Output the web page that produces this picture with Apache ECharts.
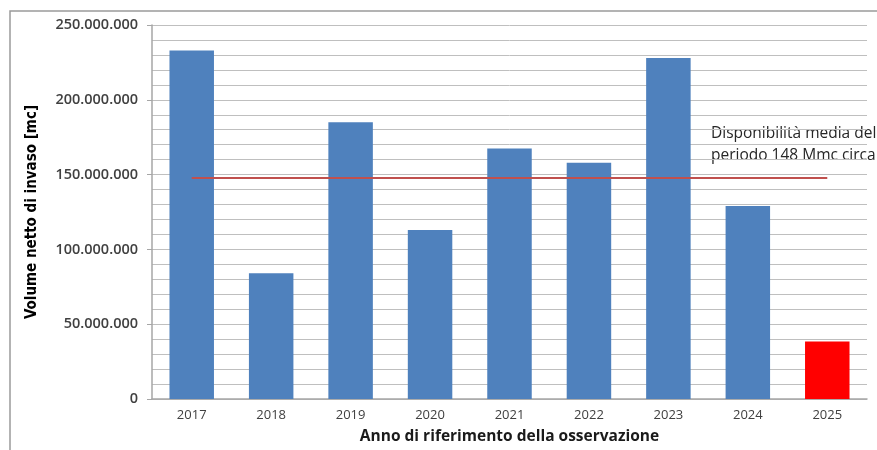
<!DOCTYPE html>
<html>
<head>
<meta charset="utf-8">
<script src="https://cdn.jsdelivr.net/npm/echarts@6/dist/echarts.min.js"></script>
<style>
  html, body { margin: 0; padding: 0; background: #fff; }
  #chart { width: 877px; height: 450px; }
</style>
</head>
<body>
<div id="chart"></div>
<script>
// Anni di osservazione e volume netto di invaso (mc)
const years = ['2017', '2018', '2019', '2020', '2021', '2022', '2023', '2024', '2025'];
const volumes = [233000000, 84000000, 185000000, 113000000, 167500000, 158000000, 228000000, 129000000, 38500000];
const averageVolume = 148000000;
const averageLabel = 'Disponibilità media del\nperiodo 148 Mmc circa';

const blue = '#4f81bd';
const red = '#ff0000';

const chart = echarts.init(document.getElementById('chart'));

function fmt(v) {
  return String(v).replace(/\B(?=(\d{3})+(?!\d))/g, '.');
}

chart.setOption({
  animation: false,
  backgroundColor: '#ffffff',
  grid: { left: 152, right: 10, top: 25, bottom: 51 },
  graphic: [
    {
      type: 'rect',
      shape: { x: 10, y: 11, width: 900, height: 500 },
      style: { fill: 'none', stroke: '#9a9a9a', lineWidth: 1.5 },
      silent: true,
      z: -10
    },
    {
      type: 'text',
      left: 711,
      top: 123,
      style: {
        text: averageLabel,
        fill: '#262626',
        font: '15.5px "Open Sans", sans-serif',
        lineHeight: 22
      }
    }
  ],
  xAxis: {
    type: 'category',
    data: years,
    name: 'Anno di riferimento della osservazione',
    nameLocation: 'middle',
    nameGap: 30,
    nameTextStyle: { fontFamily: 'Open Sans', fontWeight: 'bold', fontSize: 15.5, color: '#1a1a1a' },
    axisLine: { lineStyle: { color: '#a6a6a6', width: 1.5 } },
    axisTick: { show: false },
    axisLabel: { fontFamily: 'Open Sans', fontSize: 13, color: '#404040', margin: 10 }
  },
  yAxis: {
    type: 'value',
    min: 0,
    max: 250000000,
    interval: 50000000,
    name: 'Volume netto di invaso [mc]',
    nameLocation: 'middle',
    nameGap: 112,
    nameTextStyle: { fontFamily: 'DejaVu Sans Condensed', fontWeight: 'bold', fontSize: 15, color: '#000' },
    axisLine: { show: true, lineStyle: { color: '#a6a6a6', width: 1.5 } },
    axisTick: { show: true, length: 5, lineStyle: { color: '#a6a6a6' } },
    axisLabel: { fontFamily: 'Open Sans', fontSize: 14.5, fontWeight: 600, color: '#404040', margin: 14, formatter: fmt },
    splitLine: { lineStyle: { color: '#bfbfbf', width: 1 } },
    minorTick: { show: false, splitNumber: 5 },
    minorSplitLine: { show: true, lineStyle: { color: '#bfbfbf', width: 1 } }
  },
  series: [
    {
      type: 'bar',
      data: volumes.map((v, i) => ({
        value: v,
        itemStyle: { color: i === volumes.length - 1 ? red : blue }
      })),
      barCategoryGap: '44%',
      markLine: {
        symbol: 'none',
        silent: true,
        label: { show: false },
        lineStyle: { color: '#c0504d', width: 2, type: 'solid' },
        data: [[
          { coord: [years[0], averageVolume] },
          { coord: [years[years.length - 1], averageVolume] }
        ]]
      }
    }
  ]
});
</script>
</body>
</html>
